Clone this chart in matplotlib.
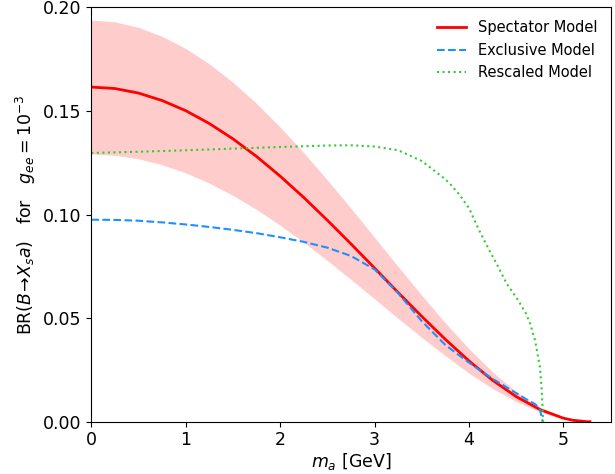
import numpy as np
import matplotlib
matplotlib.use('Agg')
import matplotlib.pyplot as plt

# m_a grid [GeV] for the spectator model and its band
ma_spec = [0.0, 0.25, 0.5, 0.75, 1.0, 1.25, 1.5, 1.75, 2.0, 2.25, 2.5, 2.75,
           3.0, 3.25, 3.5, 3.75, 4.0, 4.25, 4.5, 4.75, 5.0, 5.1, 5.25, 5.28]
br_spec = [0.1615, 0.1608, 0.1586, 0.1550, 0.1501, 0.1439, 0.1365, 0.1280,
           0.1185, 0.1082, 0.0972, 0.0858, 0.0741, 0.0623, 0.0508, 0.0397,
           0.0293, 0.0200, 0.0121, 0.0059, 0.0017, 0.0007, 0.0000, 0.0]
band_hi = [0.1938, 0.1930, 0.1903, 0.1860, 0.1801, 0.1727, 0.1638, 0.1536,
           0.1422, 0.1298, 0.1166, 0.1030, 0.0889, 0.0748, 0.0610, 0.0476,
           0.0352, 0.0240, 0.0145, 0.0071, 0.0020, 0.0008, 0.0001, 0.0]
band_lo = [0.1292, 0.1286, 0.1269, 0.1240, 0.1201, 0.1151, 0.1092, 0.1024,
           0.0948, 0.0866, 0.0778, 0.0686, 0.0593, 0.0498, 0.0406, 0.0318,
           0.0234, 0.0160, 0.0097, 0.0047, 0.0014, 0.0006, 0.0000, 0.0]

# exclusive model
ma_excl = [0.0, 0.25, 0.5, 0.75, 1.0, 1.25, 1.5, 1.75, 2.0, 2.25, 2.5, 2.75,
           3.0, 3.25, 3.5, 3.75, 4.0, 4.25, 4.5, 4.6, 4.7, 4.75, 4.78]
br_excl = [0.0975, 0.0974, 0.0970, 0.0962, 0.0952, 0.0940, 0.0926, 0.0910,
           0.0890, 0.0868, 0.0840, 0.0800, 0.0735, 0.0620, 0.0485, 0.0370,
           0.0285, 0.0207, 0.0138, 0.0110, 0.0085, 0.0060, 0.0]

# rescaled model
ma_resc = [0.0, 0.5, 1.0, 1.5, 2.0, 2.5, 2.75, 3.0, 3.25, 3.5, 3.75, 3.8,
           3.9, 4.0, 4.1, 4.2, 4.3, 4.4, 4.5, 4.6, 4.65, 4.7, 4.75, 4.77, 4.785]
br_resc = [0.1297, 0.1303, 0.1310, 0.1318, 0.1326, 0.1333, 0.1334, 0.1328,
           0.1310, 0.1258, 0.1170, 0.1147, 0.1095, 0.1030, 0.0930, 0.0840,
           0.0755, 0.0665, 0.0600, 0.0525, 0.0470, 0.0390, 0.0265, 0.0150, 0.0]

fig = plt.figure(figsize=(6.15, 4.74), dpi=100)
ax = fig.add_axes([0.1485, 0.1103, 0.8445, 0.8743])

ax.fill_between(ma_spec, band_lo, band_hi, color='red', alpha=0.2, lw=0)
ax.plot(ma_spec, br_spec, color='red', lw=2, label='Spectator Model')
ax.plot(ma_excl, br_excl, color='dodgerblue', ls='--', lw=1.5, label='Exclusive Model')
ax.plot(ma_resc, br_resc, color='limegreen', ls=':', lw=1.5, label='Rescaled Model')

ax.set_xlim(0, 5.5)
ax.set_ylim(0, 0.2)
ax.set_xticks([0, 1, 2, 3, 4, 5])
ax.set_yticks([0.0, 0.05, 0.10, 0.15, 0.20])
ax.set_yticklabels(['0.00', '0.05', '0.10', '0.15', '0.20'])
ax.tick_params(labelsize=12.5)
ax.set_xlabel(r'$m_a$ [GeV]', fontsize=12.5, labelpad=1)
ax.set_ylabel(r'BR$(B\!\to\! X_s a)$   for   $g_{ee}=10^{-3}$', fontsize=12.5)
ax.legend(loc='upper right', frameon=False, fontsize=10.5)

fig.savefig('out.png', dpi=100)
